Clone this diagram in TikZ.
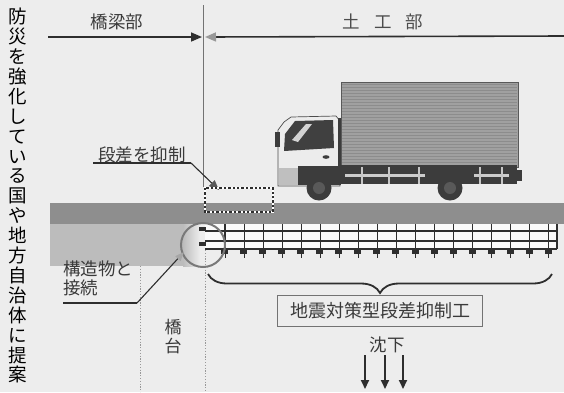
\documentclass[tikz,border=0pt]{standalone}
\usepackage{fontspec}
\newfontfamily\jpfont{Noto Sans CJK JP}
\usetikzlibrary{arrows.meta,decorations.pathreplacing}
\definecolor{paper}{HTML}{EDEDED}
\definecolor{ink}{HTML}{2E2E2E}
\definecolor{labelink}{HTML}{3A3A3A}
\definecolor{road}{HTML}{8E8E8E}
\definecolor{embank}{HTML}{BCBCBC}
\definecolor{cargo}{HTML}{A0A0A0}
\definecolor{cargoline}{HTML}{8C8C8C}
\definecolor{chassis}{HTML}{3C3C3C}
\tikzset{
  label/.style={font=\jpfont\fontsize{17.5}{18.5}\selectfont, text=labelink, inner sep=0pt},
  bigtip/.style={-{Triangle[length=11pt,width=9pt]}},
  leader/.style={draw=ink, line width=1.1pt},
  gridline/.style={draw=ink, line width=1.1pt},
  anchorbar/.style={fill=ink},
  sinkarrow/.style={draw=ink, line width=1.8pt, -{Triangle[length=9pt,width=8pt]}},
  guide/.style={draw=gray!80, line width=0.8pt, dash pattern=on 1.2pt off 1.6pt},
}
\begin{document}
\begin{tikzpicture}[x=1pt,y=-1pt]
  % page
  \fill[paper] (0,0) rectangle (564,392);
  \useasboundingbox (0,0) rectangle (564,392);

  % vertical headline
  \node (slogan) [anchor=north, align=center, inner sep=0pt,
    font=\jpfont\fontsize{18.5}{19.9}\selectfont, text=black] at (18,8)
    {防\\災\\を\\強\\化\\し\\て\\い\\る\\国\\や\\地\\方\\自\\治\\体\\に\\提\\案};

  % section boundary and section arrows
  \coordinate (bndtop) at (203,5);
  \coordinate (bndbot) at (203,187);
  \draw[gray!90!black, line width=1pt] (bndtop) -- (bndbot);
  \coordinate (bridgeL) at (48,37);
  \coordinate (bridgeR) at (202,37);
  \coordinate (earthR) at (564,36);
  \coordinate (earthL) at (205,37);
  \draw[ink, line width=1.6pt, bigtip] (bridgeL) -- (bridgeR);
  \draw[ink, line width=1.6pt, -{Triangle[length=11pt,width=9pt,fill=gray!80,color=gray!80]}] (earthR) -- (earthL);
  \node (bridgepart) [label] at (117,22) {橋梁部};
  \node (earthpart) [label, text=gray!60!black] at (383,22) {土\hspace{14pt}工\hspace{14pt}部};

  % abutment guides
  \coordinate (abL1) at (140,266);
  \coordinate (abL2) at (140,392);
  \coordinate (abR1) at (205,250);
  \coordinate (abR2) at (205,392);
  \draw[guide] (abL1) -- (abL2);
  \draw[guide] (abR1) -- (abR2);
  \node (abutment) [label, align=center, font=\jpfont\fontsize{17}{19}\selectfont] at (173,337) {橋\\台};

  % embankment under the bridge side
  \fill[embank] (50,224) rectangle (183,266);
  \shade[left color=embank, right color=paper] (183,224) rectangle (200,266);

  % road surface
  \fill[road] (50,203) rectangle (564,224);

  % reinforcement grid
  \fill[white!96!gray] (205,224) rectangle (557,249);
  \foreach \yy in {231,241,249} \draw[gridline] (205,\yy) -- (557,\yy);
  \draw[gridline] (557,224) -- (557,249);
  \foreach \k in {0,...,17} {
    \pgfmathsetmacro\gx{225+19.05*\k}
    \draw[gridline] (\gx,224) -- (\gx,250);
    \fill[anchorbar] (\gx-4,249) rectangle (\gx+3,253.5);
    \draw[ink, line width=0.9pt] (\gx,253) -- (\gx,257.5);
  }
  \fill[anchorbar] (199,227) rectangle (206,231);
  \fill[anchorbar] (199,242) rectangle (206,246);

  % joint circle
  \node (joint) [circle, draw=gray!95!black, line width=2pt, minimum size=44pt, inner sep=0pt] at (203,245) {};

  % brace and method box
  \coordinate (braceL) at (208,274);
  \coordinate (braceR) at (552,274);
  \draw[ink, line width=1.8pt, decorate, decoration={brace, mirror, amplitude=19pt}] (braceL) -- (braceR);
  \node (method) [label, draw=gray!90!black, line width=1.8pt, minimum width=205pt, minimum height=31pt,
    font=\jpfont\fontsize{18}{19}\selectfont] at (380,311) {地震対策型段差抑制工};

  % settlement
  \node (sink) [label] at (387,345) {沈下};
  \foreach \sx [count=\i] in {365,385,403} {
    \coordinate (s\i a) at (\sx,355);
    \coordinate (s\i b) at (\sx,389);
    \draw[sinkarrow] (s\i a) -- (s\i b);
  }

  % label: connection to structure
  \node (connect) [label, anchor=north west, align=left] at (63,261) {構造物と\\接続};
  \coordinate (cU1) at (63,303);
  \coordinate (cU2) at (137,303);
  \coordinate (cTip) at (184,252);
  \draw[leader] (cU1) -- (cU2);
  \draw[leader, -{Triangle[length=9pt,width=7pt,fill=gray!70,color=gray!70]}] (cU2) -- (cTip);

  % truck: cargo box
  \fill[cargo] (341,82) rectangle (518,167);
  \foreach \yy in {84,87,...,165} \draw[cargoline, line width=0.6pt] (342,\yy) -- (517,\yy);
  \draw[gray!70!black, line width=0.6pt] (341,82) rectangle (518,167);

  % truck: chassis and guard rails
  \fill[chassis] (298,165) rectangle (517,184);
  \fill[gray!40] (345,173.5) rectangle (425,177);
  \fill[gray!40] (474,173.5) rectangle (509,177);
  \foreach \px in {362,389,419,480,502} \fill[gray!45] (\px-1,167) rectangle (\px+1,184);
  \fill[chassis] (516,170) rectangle (522,181);

  % truck: cab
  \fill[white!85!gray, draw=gray!60!black, line width=0.7pt]
    (278,186) -- (278,130) -- (284,122) -- (291,117) -- (336,116) -- (340,121) -- (340,186) -- cycle;
  \fill[gray!50!black] (284,151) -- (285,134) -- (295,121) -- (333,120) -- (334,148) -- cycle;
  \fill[gray!35] (292,140) -- (306,124) -- (312,124) -- (298,142) -- cycle;
  \fill[chassis] (275,132) rectangle (279.5,147);
  \fill[chassis] (326,157) ellipse [x radius=3.5, y radius=1.8];
  \fill[chassis] (298,166) rectangle (341,185);
  \fill[gray!50] (279,168) rectangle (298,185);
  \fill[chassis] (338,118) rectangle (341,168);

  % truck: wheels
  \foreach \wx in {319,450} {
    \fill[chassis] (\wx,188) circle [radius=12.5];
    \fill[gray!70!black] (\wx,188) circle [radius=6];
  }

  % label: step suppression, with the target area
  \node (step) [label] at (142,155) {段差を抑制};
  \coordinate (sU1) at (93,163);
  \coordinate (sU2) at (191,163);
  \coordinate (sTip) at (219,190);
  \draw[leader] (sU1) -- (sU2);
  \draw[leader, -{Triangle[length=10pt,width=8pt,fill=gray!70!black,color=gray!70!black]}] (sU2) -- (sTip);
  \draw[white, line width=2.4pt] (205,188) rectangle (273,212);
  \draw[ink, line width=2.4pt, dash pattern=on 2.4pt off 2pt] (205,188) rectangle (273,212);
\end{tikzpicture}
\end{document}
